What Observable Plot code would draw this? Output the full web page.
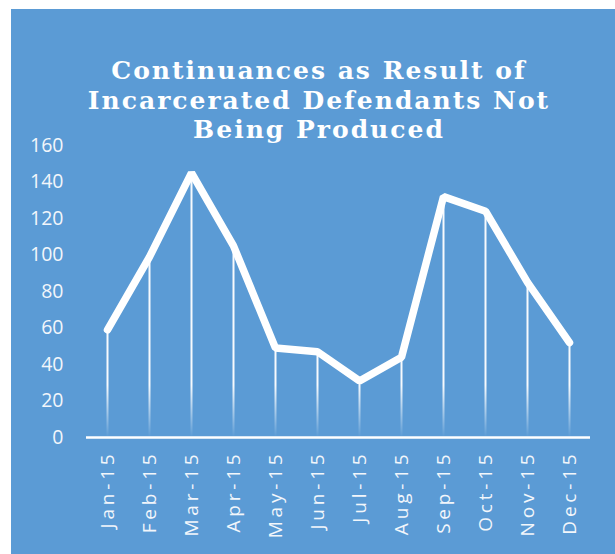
<!DOCTYPE html>
<html>
<head>
<meta charset="utf-8">
<script src="https://cdn.jsdelivr.net/npm/d3@7"></script>
<script src="https://cdn.jsdelivr.net/npm/@observablehq/plot@0.6"></script>
<style>
  html, body { margin: 0; padding: 0; background: #ffffff; }
  #wrap { position: relative; width: 615px; height: 554px; overflow: hidden; }
  #bg { position: absolute; left: 11px; top: 9px; right: 0; bottom: 0; background: #5B9BD5; }
  #title {
    position: absolute; left: 19px; width: 600px; top: 56px;
    text-align: center; color: #ffffff;
    font-family: "DejaVu Serif", serif; font-weight: bold;
    font-size: 25px; line-height: 29.5px; letter-spacing: 2px;
  }
  #chart { position: absolute; left: 0; top: 0; }
</style>
</head>
<body>
<div id="wrap">
  <div id="bg"></div>
  <div id="chart"></div>
  <div id="title">Continuances as Result of<br>Incarcerated Defendants Not<br>Being Produced</div>
</div>
<script>
const months = ["Jan-15","Feb-15","Mar-15","Apr-15","May-15","Jun-15","Jul-15","Aug-15","Sep-15","Oct-15","Nov-15","Dec-15"];
const values = [59, 99, 145, 105, 49, 47, 31, 44, 132, 124, 85, 52];
const yTicks = [0, 20, 40, 60, 80, 100, 120, 140, 160];

const data = months.map((m, i) => ({month: m, value: values[i]}));

const plot = Plot.plot({
  width: 615,
  height: 554,
  marginLeft: 86,
  marginRight: 25,
  marginTop: 145,
  marginBottom: 117,
  style: {background: "transparent", color: "#F2F6FB", fontFamily: "'Open Sans', sans-serif"},
  x: {type: "point", domain: months, padding: 0.5, label: null},
  y: {domain: [0, 160], label: null},
  marks: [
    Plot.axisY({ticks: yTicks, tickSize: 0, tickPadding: 23, label: null}),
    Plot.axisX({tickSize: 0, tickPadding: 13, tickRotate: -90, label: null}),
    Plot.ruleX(data, {x: "month", y1: 0, y2: "value", stroke: "#fffffe", strokeWidth: 2}),
    Plot.ruleY([0], {stroke: "white", strokeWidth: 2.5}),
    Plot.line(data, {x: "month", y: "value", stroke: "white", strokeWidth: 7.5, strokeLinejoin: "miter", strokeLinecap: "round"})
  ]
});

// gradient for the fading drop lines
const ns = "http://www.w3.org/2000/svg";
const defs = document.createElementNS(ns, "defs");
const grad = document.createElementNS(ns, "linearGradient");
grad.setAttribute("id", "dropGrad");
grad.setAttribute("gradientUnits", "userSpaceOnUse");
grad.setAttribute("x1", "0"); grad.setAttribute("x2", "0");
grad.setAttribute("y1", "385"); grad.setAttribute("y2", "437");
[["0", 0.95], ["1", 0]].forEach(([off, op]) => {
  const s = document.createElementNS(ns, "stop");
  s.setAttribute("offset", off);
  s.setAttribute("stop-color", "#ffffff");
  s.setAttribute("stop-opacity", op);
  grad.appendChild(s);
});
defs.appendChild(grad);
plot.insertBefore(defs, plot.firstChild);
plot.querySelectorAll('[stroke="#fffffe"]').forEach(el => {
  el.setAttribute("stroke", "url(#dropGrad)");
  el.querySelectorAll("line").forEach(l => l.setAttribute("stroke", "url(#dropGrad)"));
});

// axis label styling
plot.querySelectorAll('g[aria-label="y-axis tick label"]').forEach(g => { g.setAttribute("font-size", "19.5"); });
plot.querySelectorAll('g[aria-label="y-axis tick label"] text').forEach(t => { t.style.fontSize = "19.5px"; });
plot.querySelectorAll('g[aria-label="x-axis tick label"]').forEach(g => { g.setAttribute("font-size", "19"); });
plot.querySelectorAll('g[aria-label="x-axis tick label"] text').forEach(t => { t.style.fontSize = "19px"; t.style.letterSpacing = "3.8px"; });

document.getElementById("chart").appendChild(plot);
</script>
</body>
</html>
